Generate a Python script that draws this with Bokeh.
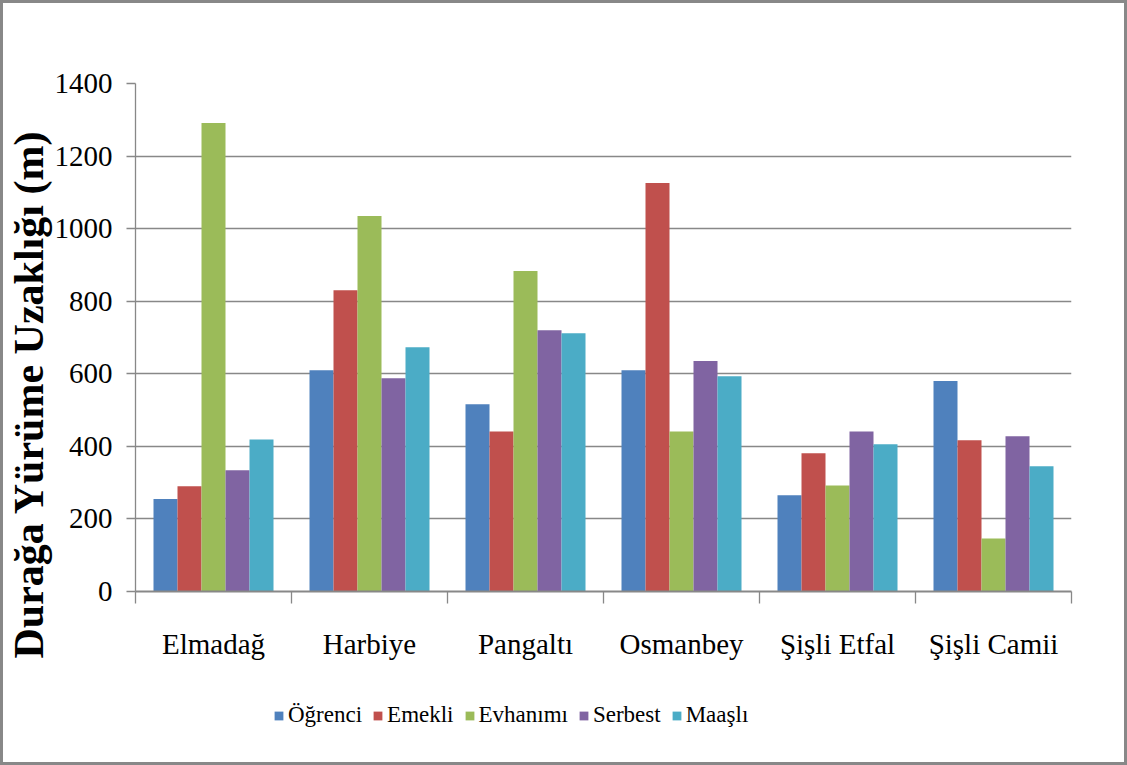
from bokeh.plotting import figure
from bokeh.layouts import column
from bokeh.models import (ColumnDataSource, Range1d, LinearAxis, Title,
                          FixedTicker, Legend, LegendItem)
from bokeh.transform import dodge
from bokeh.embed import file_html
from bokeh.resources import INLINE

# ---- data ----
stations = ["Elmadağ", "Harbiye", "Pangaltı", "Osmanbey", "Şişli Etfal", "Şişli Camii"]
ogrenci  = [255, 610, 516, 610, 265, 580]
emekli   = [290, 830, 441, 1126, 381, 417]
evhanimi = [1291, 1035, 883, 441, 292, 146]
serbest  = [334, 588, 720, 635, 441, 428]
maasli   = [419, 673, 712, 593, 406, 345]
series_names = ["Öğrenci", "Emekli", "Evhanımı", "Serbest", "Maaşlı"]
series_vals = [ogrenci, emekli, evhanimi, serbest, maasli]
colors = ["#4F81BD", "#C0504D", "#9BBB59", "#8064A2", "#4BACC6"]
y_ticks = [0, 200, 400, 600, 800, 1000, 1200, 1400]
y_title = "Durağa Yürüme Uzaklığı (m)"

FONT = "Liberation Serif"
GREY = "#888888"
W = 1121            # + 3px CSS border each side -> 1127
H1, H2 = 690, 69    # main chart + legend strip = 759 (+6 border -> 765)

n = len(stations)
centers = [i + 0.5 for i in range(n)]
bounds = list(range(n + 1))
data = {"station": stations, "pos": centers}
for i, v in enumerate(series_vals):
    data["s%d" % i] = v
src = ColumnDataSource(data)

p = figure(x_range=Range1d(0, n), y_range=Range1d(0, 1400),
           width=W, height=H1, output_backend="svg", toolbar_location=None,
           x_axis_location=None, tools="")
p.min_border_left = 131
p.min_border_right = 53
p.min_border_top = 80
p.min_border_bottom = H1 - 588
p.outline_line_color = None
p.background_fill_color = "white"
p.border_fill_color = "white"

bw = 1.0 / 6.5
for i, name in enumerate(series_names):
    p.vbar(x=dodge("pos", (i - 2) * bw), top="s%d" % i,
           width=bw, source=src, fill_color=colors[i], line_color=None)

# y axis
yax = p.yaxis[0]
yax.ticker = FixedTicker(ticks=y_ticks)
yax.axis_line_color = GREY
yax.axis_line_width = 1.3
yax.major_tick_line_color = GREY
yax.major_tick_line_width = 1.3
yax.major_tick_out = 9
yax.major_tick_in = 0
yax.minor_tick_line_color = None
yax.major_label_text_font = FONT
yax.major_label_text_font_size = "29px"
yax.major_label_text_color = "black"
yax.major_label_standoff = 14

ytitle = Title(text=y_title, align="left", offset=-67,
               text_font=FONT, text_font_style="bold", text_font_size="42px",
               text_color="black", standoff=0)
p.add_layout(ytitle, "left")

p.ygrid.grid_line_color = GREY
p.ygrid.grid_line_width = 1.3
p.ygrid.ticker = FixedTicker(ticks=y_ticks)
p.xgrid.grid_line_color = None

# category axis: labels at centers, minor ticks at category boundaries
cat_axis = LinearAxis(ticker=FixedTicker(ticks=centers, minor_ticks=bounds),
                      major_label_overrides={c: s for c, s in zip(centers, stations)},
                      axis_line_color=GREY, axis_line_width=2,
                      major_tick_line_color=None, major_tick_out=0, major_tick_in=0,
                      minor_tick_line_color=GREY, minor_tick_line_width=1.3,
                      minor_tick_out=12, minor_tick_in=0,
                      major_label_text_font=FONT, major_label_text_font_size="29px",
                      major_label_text_color="black", major_label_standoff=24)
p.add_layout(cat_axis, "below")

# legend strip: same series renderers, but this strip's y range lies above all bars
lf = figure(x_range=Range1d(0, n), y_range=Range1d(2000, 3000),
            width=W, height=H2, output_backend="svg", toolbar_location=None,
            x_axis_location=None, y_axis_location=None, tools="")
lf.min_border = 0
lf.outline_line_color = None
lf.background_fill_color = "white"
lf.border_fill_color = "white"
lf.xgrid.grid_line_color = None
lf.ygrid.grid_line_color = None
swatches = []
for i, name in enumerate(series_names):
    swatches.append(lf.vbar(x=dodge("pos", (i - 2) * bw), top="s%d" % i, width=bw, source=src,
                            fill_color=colors[i], line_color=None))

legend = Legend(items=[LegendItem(label=nm, renderers=[r]) for nm, r in zip(series_names, swatches)],
                orientation="horizontal", location=(138, 34),
                label_text_font=FONT, label_text_font_size="23px", label_text_color="black",
                glyph_width=11, glyph_height=11, label_standoff=4, spacing=10,
                padding=0, margin=0, border_line_color=None, background_fill_alpha=0)
lf.add_layout(legend, "center")

layout = column(p, lf, spacing=0, styles={"border": "3px solid #888888", "background": "white"})

open("out.html", "w").write(file_html(layout, INLINE))
